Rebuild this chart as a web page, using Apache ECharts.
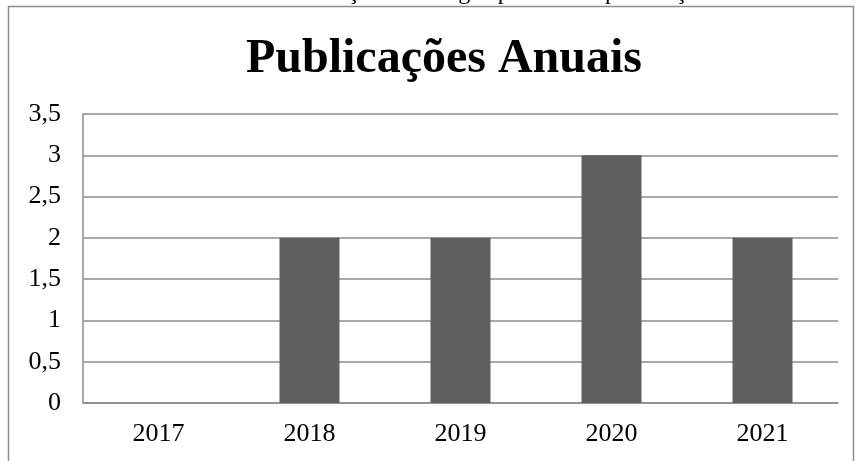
<!DOCTYPE html>
<html><head><meta charset="utf-8">
<script src="https://cdn.jsdelivr.net/npm/echarts@6/dist/echarts.min.js"></script>
<style>html,body{margin:0;padding:0;background:#fff}#c{width:856px;height:461px}</style>
</head><body><div id="c"></div>
<script>
const categories = ['2017', '2018', '2019', '2020', '2021'];
const values = [0, 2, 2, 3, 2];
const yTicks = ['0', '0,5', '1', '1,5', '2', '2,5', '3', '3,5'];
const chartTitle = 'Publicações Anuais';
const caption = 'Gráfico 3 – Distribuição dos artigos por ano de publicação';

const font = '"Liberation Serif", "Times New Roman", serif';
const chart = echarts.init(document.getElementById('c'), null, {renderer: 'canvas'});
chart.setOption({
  animation: false,
  title: {
    text: chartTitle, left: 439, top: 31, textAlign: 'center',
    textStyle: {fontFamily: font, fontSize: 48, fontWeight: 'bold', color: '#000'}
  },
  graphic: [
    {type: 'rect', shape: {x: 8.5, y: 6.5, width: 845, height: 470}, style: {fill: 'none', stroke: '#8c8c8c', lineWidth: 1.5}, silent: true},
    {type: 'text', x: 428, y: 5, style: {text: caption, font: '24px "Liberation Serif", serif', fill: '#000', textAlign: 'center', textVerticalAlign: 'bottom'}}
  ],
  grid: {left: 83, right: 18, top: 114, bottom: 58, containLabel: false},
  xAxis: {
    type: 'category', data: categories,
    axisLine: {lineStyle: {color: '#8c8c8c', width: 1.5}},
    axisTick: {show: false},
    axisLabel: {fontFamily: font, fontSize: 26, color: '#000', margin: 18}
  },
  yAxis: {
    type: 'value', min: 0, max: 3.5, interval: 0.5,
    axisLine: {show: true, lineStyle: {color: '#8c8c8c', width: 1.5}},
    axisTick: {show: false},
    splitLine: {lineStyle: {color: '#8c8c8c', width: 1.5}},
    axisLabel: {fontFamily: font, fontSize: 26, color: '#000', margin: 22,
      formatter: v => yTicks[Math.round(v * 2)]}
  },
  series: [{
    type: 'bar', data: values, barWidth: 60,
    itemStyle: {color: '#5f5f5f', borderColor: '#7d7d7d', borderWidth: 0}
  }]
});
</script></body></html>
